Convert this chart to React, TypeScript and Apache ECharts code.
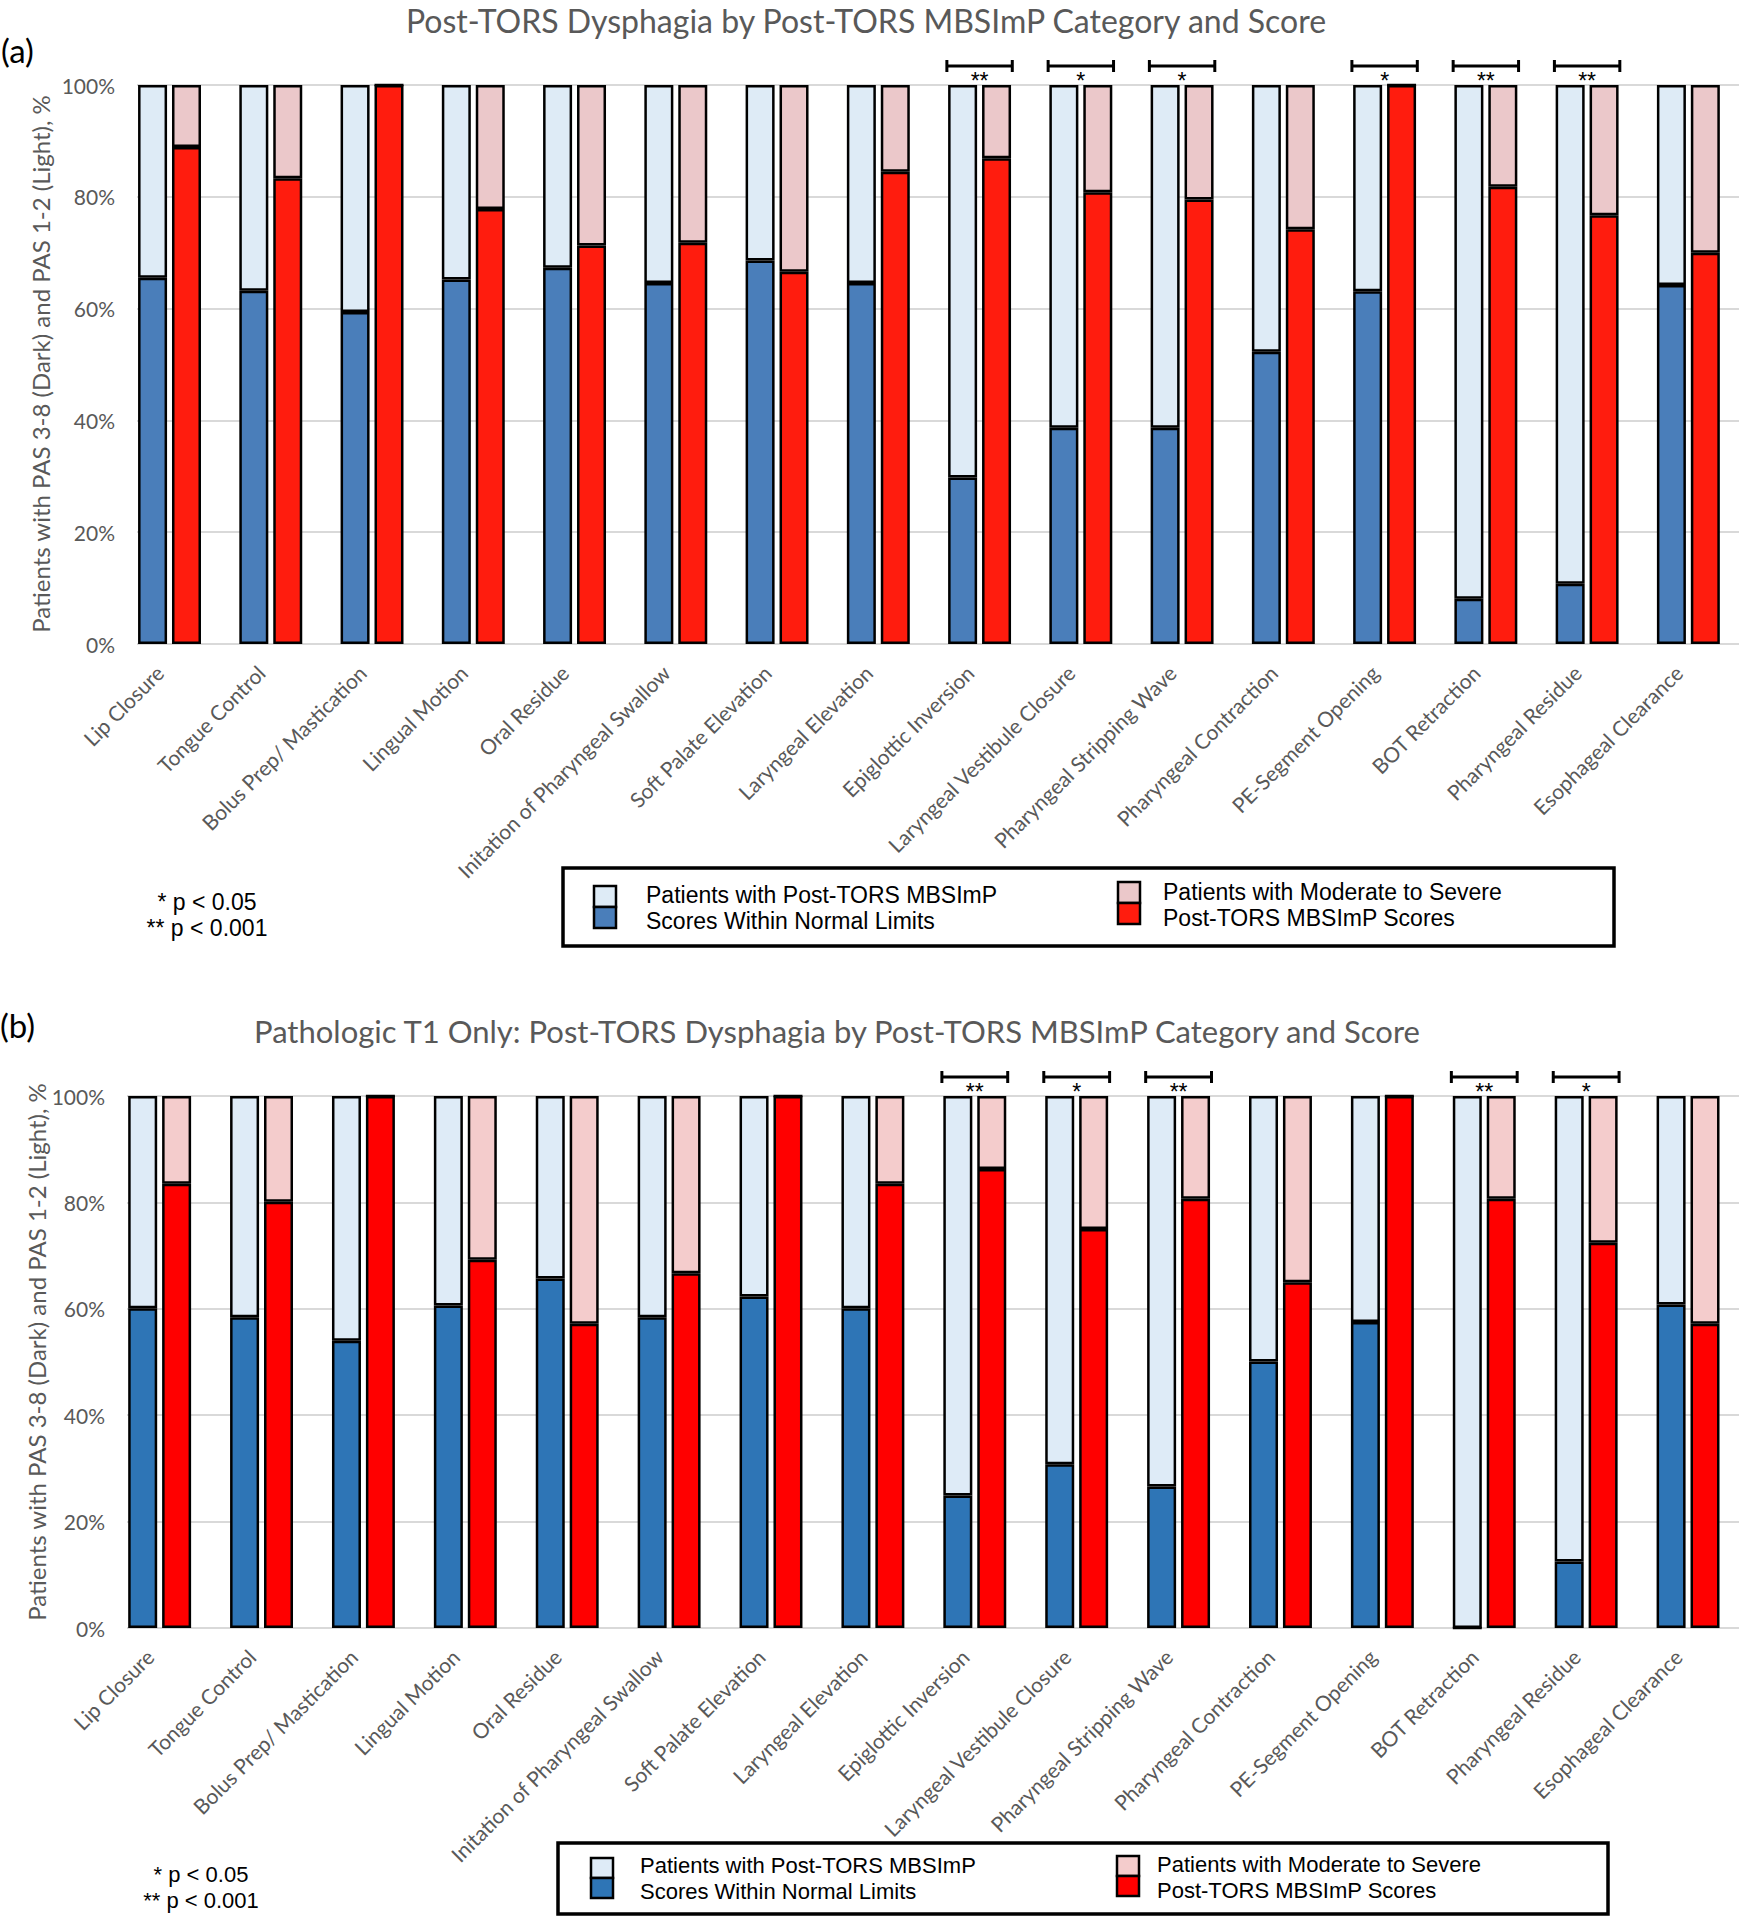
import React, { useEffect, useRef } from 'react';
import * as echarts from 'echarts';

const categories = [
  'Lip Closure', 'Tongue Control', 'Bolus Prep/ Mastication', 'Lingual Motion', 'Oral Residue',
  'Initation of Pharyngeal Swallow', 'Soft Palate Elevation', 'Laryngeal Elevation', 'Epiglottic Inversion',
  'Laryngeal Vestibule Closure', 'Pharyngeal Stripping Wave', 'Pharyngeal Contraction', 'PE-Segment Opening',
  'BOT Retraction', 'Pharyngeal Residue', 'Esophageal Clearance',
];

// Panel (a): % with PAS 3-8 (dark part) in each group
const normalA = [65.5, 63.2, 59.4, 65.2, 67.3, 64.6, 68.6, 64.6, 29.8, 38.7, 38.7, 52.3, 63.1, 8.1, 10.8, 64.2];
const severeA = [88.9, 83.3, 100, 77.8, 71.3, 71.8, 66.6, 84.5, 86.9, 80.8, 79.5, 74.2, 100, 81.8, 76.7, 70.0];
const sigA = ['', '', '', '', '', '', '', '', '**', '*', '*', '', '*', '**', '**', ''];

// Panel (b): Pathologic T1 only
const normalB = [60.1, 58.4, 54.0, 60.6, 65.7, 58.4, 62.3, 60.1, 24.9, 30.8, 26.6, 50.1, 57.5, 0, 12.5, 60.8];
const severeB = [83.5, 80.1, 100, 69.2, 57.2, 66.7, 100, 83.5, 86.3, 75.0, 80.7, 65.0, 100, 80.7, 72.4, 57.2];
const sigB = ['', '', '', '', '', '', '', '', '**', '*', '**', '', '', '**', '*', ''];

const yTicks = { min: 0, max: 100, interval: 20 };

const titleA = 'Post-TORS Dysphagia by Post-TORS MBSImP Category and Score';
const titleB = 'Pathologic T1 Only: Post-TORS Dysphagia by Post-TORS MBSImP Category and Score';
const yTitle = 'Patients with PAS 3-8 (Dark) and PAS 1-2 (Light), %';
const legendLeft = ['Patients with Post-TORS MBSImP', 'Scores Within Normal Limits'];
const legendRight = ['Patients with Moderate to Severe', 'Post-TORS MBSImP Scores'];
const footnotes = ['* p < 0.05', '** p < 0.001'];

const GRAY = '#595959';
const CAL = 'Lato';
const ARIAL = '"Liberation Sans", Arial';

function panel(
  idx: number,
  normal: number[],
  severe: number[],
  sig: string[],
  colors: { blue: string; lightBlue: string; red: string; pink: string },
  geo: { barLeft: number; barWidth: number; gridLeft: number; top: number; height: number }
) {
  const gBar = idx * 2;
  const gLine = idx * 2 + 1;
  const grids = [
    { left: geo.barLeft, top: geo.top, width: geo.barWidth, height: geo.height },
    { left: geo.gridLeft, top: geo.top, right: 0, height: geo.height },
  ];
  const xAxes = [
    {
      gridIndex: gBar,
      type: 'category',
      data: categories,
      axisLine: { show: false },
      axisTick: { show: false },
      axisLabel: {
        interval: 0,
        rotate: 45,
        margin: 15,
        padding: [0, 14, 0, 0],
        color: GRAY,
        fontSize: 21,
        fontFamily: CAL,
      },
    },
    { gridIndex: gLine, type: 'value', show: false, min: 0, max: 1 },
  ];
  const yAxes = [
    { gridIndex: gBar, type: 'value', ...yTicks, show: false },
    {
      gridIndex: gLine,
      type: 'value',
      ...yTicks,
      axisLine: { show: false },
      axisTick: { show: false },
      axisLabel: { formatter: '{value}%', margin: 22, color: GRAY, fontSize: 21, fontFamily: CAL },
      splitLine: { show: true, lineStyle: { color: '#d9d9d9', width: 2 } },
    },
  ];
  const border = { borderColor: '#000', borderWidth: 2.5 };
  const common = { type: 'bar', xAxisIndex: gBar, yAxisIndex: gBar, barWidth: 29, barGap: '17%' };
  const sigItems = sig.map((s, i) => ({ i, s })).filter((d) => d.s);
  const series: any[] = [
    { ...common, name: 'n' + idx, stack: 'normal' + idx, data: normal, itemStyle: { color: colors.blue, ...border } },
    { ...common, name: 'nl' + idx, stack: 'normal' + idx, data: normal.map((v) => 100 - v), itemStyle: { color: colors.lightBlue, ...border } },
    { ...common, name: 's' + idx, stack: 'severe' + idx, data: severe, itemStyle: { color: colors.red, ...border } },
    { ...common, name: 'sl' + idx, stack: 'severe' + idx, data: severe.map((v) => 100 - v), itemStyle: { color: colors.pink, ...border } },
    {
      type: 'custom',
      xAxisIndex: gBar,
      yAxisIndex: gBar,
      clip: false,
      z: 10,
      data: sigItems.map((d) => [d.i, 100]),
      renderItem: (params: any, api: any) => {
        const p = api.coord([api.value(0), api.value(1)]);
        const band = api.size([1, 0])[0];
        const h = band * 0.323;
        const x = p[0];
        const y = p[1] - 19;
        const st = { stroke: '#000', lineWidth: 3 };
        return {
          type: 'group',
          children: [
            { type: 'line', shape: { x1: x - h, y1: y, x2: x + h, y2: y }, style: st },
            { type: 'line', shape: { x1: x - h, y1: y - 6, x2: x - h, y2: y + 6 }, style: st },
            { type: 'line', shape: { x1: x + h, y1: y - 6, x2: x + h, y2: y + 6 }, style: st },
            {
              type: 'text',
              style: {
                text: sigItems[params.dataIndex].s,
                x,
                y: y + 15,
                align: 'center',
                verticalAlign: 'middle',
                fontSize: 23,
                fontFamily: ARIAL,
                fill: '#000',
              },
            },
          ],
        };
      },
    },
  ];
  return { grids, xAxes, yAxes, series };
}

function legendGraphics(
  box: { x: number; y: number; w: number; h: number },
  left: { ix: number; iy: number; tx: number; ty: number },
  right: { ix: number; iy: number; tx: number; ty: number },
  colors: { blue: string; lightBlue: string; red: string; pink: string },
  sq: number,
  fs: number
) {
  const txt = (text: string, x: number, y: number) => ({
    type: 'text',
    x,
    y,
    style: { text, fontSize: fs, fontFamily: ARIAL, fill: '#000', align: 'left', verticalAlign: 'middle' },
  });
  const rect = (x: number, y: number, fill: string) => ({
    type: 'rect',
    shape: { x, y, width: 22, height: sq },
    style: { fill, stroke: '#000', lineWidth: 2.5 },
  });
  return [
    { type: 'rect', shape: { x: box.x, y: box.y, width: box.w, height: box.h }, style: { fill: '#fff', stroke: '#000', lineWidth: 3.5 } },
    rect(left.ix, left.iy, colors.lightBlue),
    rect(left.ix, left.iy + sq, colors.blue),
    txt(legendLeft[0], left.tx, left.ty),
    txt(legendLeft[1], left.tx, left.ty + 26),
    rect(right.ix, right.iy, colors.pink),
    rect(right.ix, right.iy + sq, colors.red),
    txt(legendRight[0], right.tx, right.ty),
    txt(legendRight[1], right.tx, right.ty + 26),
  ];
}

function footGraphics(x: number, y: number, fs: number) {
  return footnotes.map((t, i) => ({
    type: 'text',
    x,
    y: y + i * 26,
    style: { text: t, fontSize: fs, fontFamily: ARIAL, fill: '#000', align: 'center', verticalAlign: 'middle' },
  }));
}

const colorsA = { blue: '#4A7EBA', lightBlue: '#DEEBF6', red: '#FF1C0E', pink: '#EBC8CA' };
const colorsB = { blue: '#2E75B6', lightBlue: '#DEEBF7', red: '#FF0000', pink: '#F4CCCC' };

export default function App() {
  const ref = useRef<HTMLDivElement>(null);
  useEffect(() => {
    if (!ref.current) return;
    const chart = echarts.init(ref.current, undefined, { renderer: 'svg' });
    const pa = panel(0, normalA, severeA, sigA, colorsA, { barLeft: 118.9, barWidth: 1635.2, gridLeft: 137, top: 85, height: 559 });
    const pb = panel(1, normalB, severeB, sigB, colorsB, { barLeft: 108.7, barWidth: 1642.7, gridLeft: 127, top: 1096, height: 532 });
    const titleText = (text: string, x: number, y: number, size: number, fill: string, align = 'center') => ({
      type: 'text',
      x,
      y,
      style: { text, fontSize: size, fontFamily: CAL, fill, align, verticalAlign: 'middle' },
    });
    const yTitleText = (x: number, y: number) => ({
      type: 'text',
      x,
      y,
      rotation: Math.PI / 2,
      style: { text: yTitle, fontSize: 24, fontFamily: CAL, fill: GRAY, align: 'center', verticalAlign: 'middle' },
    });
    const option: any = {
      animation: false,
      backgroundColor: '#fff',
      grid: [...pa.grids, ...pb.grids],
      xAxis: [...pa.xAxes, ...pb.xAxes],
      yAxis: [...pa.yAxes, ...pb.yAxes],
      series: [...pa.series, ...pb.series],
      graphic: [
        titleText(titleA, 866, 20, 32, GRAY),
        titleText('(a)', 1, 50, 33, '#000', 'left'),
        yTitleText(40, 364),
        ...legendGraphics({ x: 563, y: 868, w: 1051, h: 78 }, { ix: 594, iy: 886, tx: 646, ty: 895 }, { ix: 1118, iy: 882, tx: 1163, ty: 892 }, colorsA, 21, 23),
        ...footGraphics(207, 902, 23),
        titleText(titleB, 837, 1031, 31, GRAY),
        titleText('(b)', 0, 1025, 33, '#000', 'left'),
        yTitleText(36, 1352),
        ...legendGraphics({ x: 558, y: 1843, w: 1050, h: 71 }, { ix: 591, iy: 1858, tx: 640, ty: 1865 }, { ix: 1117, iy: 1856, tx: 1157, ty: 1864 }, colorsB, 20, 22),
        ...footGraphics(201, 1874, 22),
      ],
    };
    chart.setOption(option);
    return () => chart.dispose();
  }, []);
  return <div ref={ref} style={{ position: 'absolute', left: 0, top: 0, width: 1739, height: 1920 }} />;
}
